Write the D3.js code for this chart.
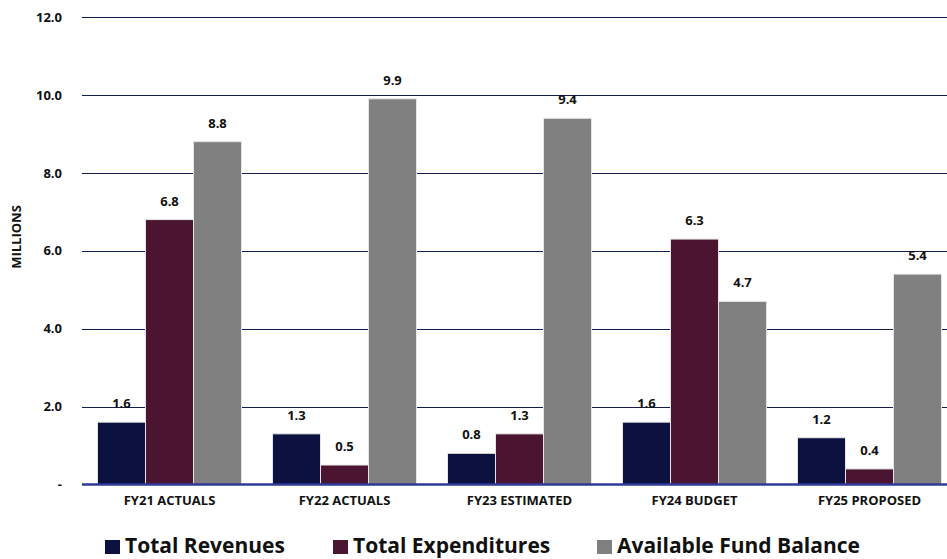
<!DOCTYPE html>
<html>
<head>
<meta charset="utf-8">
<script src="https://cdn.jsdelivr.net/npm/d3@7"></script>
<style>
  html, body { margin: 0; padding: 0; background: #fff; }
  svg { display: block; font-family: "Open Sans", Lato, sans-serif; }
</style>
</head>
<body>
<svg id="chart" width="947" height="559"></svg>
<script>
// Fiscal years shown along the x axis
const categories = ["FY21 ACTUALS", "FY22 ACTUALS", "FY23 ESTIMATED", "FY24 BUDGET", "FY25 PROPOSED"];
// Values in millions
const totalRevenues = [1.6, 1.3, 0.8, 1.6, 1.2];
const totalExpenditures = [6.8, 0.5, 1.3, 6.3, 0.4];
const availableFundBalance = [8.8, 9.9, 9.4, 4.7, 5.4];
const seriesNames = ["Total Revenues", "Total Expenditures", "Available Fund Balance"];
const yTicks = [0, 2, 4, 6, 8, 10, 12];

const seriesValues = [totalRevenues, totalExpenditures, availableFundBalance];
const colors = ["#0d1140", "#4b1531", "#808080"];
const FONT = "'Open Sans', Lato, sans-serif";

const svg = d3.select("#chart");
const margin = { left: 82, top: 17, bottom: 74 };
const plotRight = 957;
const height = 559;

const x0 = d3.scaleBand()
  .domain(categories)
  .range([margin.left, plotRight])
  .paddingInner(0.177)
  .paddingOuter(0.0885);

const x1 = d3.scaleBand()
  .domain(d3.range(seriesNames.length))
  .range([0, x0.bandwidth()]);

const y = d3.scaleLinear()
  .domain([0, 12])
  .range([height - margin.bottom - 0.5, margin.top]);

// Horizontal gridlines
svg.append("g")
  .selectAll("line")
  .data(yTicks.filter(d => d > 0))
  .join("line")
  .attr("x1", margin.left)
  .attr("x2", plotRight)
  .attr("y1", d => Math.round(y(d)) + 0.5)
  .attr("y2", d => Math.round(y(d)) + 0.5)
  .attr("stroke", "#161b52")
  .attr("stroke-width", 1.2);

// Y axis tick labels
const yAxis = d3.axisLeft(y)
  .tickValues(yTicks)
  .tickSize(0)
  .tickPadding(0)
  .tickFormat(d => d === 0 ? "-" : d3.format(".1f")(d));

svg.append("g")
  .attr("transform", `translate(62,0)`)
  .call(yAxis)
  .call(g => g.select(".domain").remove())
  .selectAll("text")
  .attr("font-family", FONT)
  .attr("font-size", 13)
  .attr("font-weight", "bold")
  .attr("fill", "#111");

// Axis title
svg.append("text")
  .attr("transform", `translate(16,237) rotate(-90)`)
  .attr("text-anchor", "middle")
  .attr("dy", "0.35em")
  .attr("font-size", 13)
  .attr("font-weight", "bold")
  .attr("fill", "#111")
  .text("MILLIONS");

// Bars
const groups = svg.append("g")
  .selectAll("g")
  .data(categories)
  .join("g")
  .attr("transform", d => `translate(${x0(d)},0)`);

const cells = groups.selectAll("g")
  .data((d, i) => seriesValues.map((s, k) => ({ k, v: s[i] })))
  .join("g");

cells.append("rect")
  .attr("x", d => x1(d.k))
  .attr("y", d => y(d.v))
  .attr("width", x1.bandwidth())
  .attr("height", d => y(0) - y(d.v))
  .attr("fill", d => colors[d.k])
  .attr("stroke", "#e6e6e6")
  .attr("stroke-width", 1);

cells.append("text")
  .attr("x", d => x1(d.k) + x1.bandwidth() / 2)
  .attr("y", d => y(d.v) - 14)
  .attr("text-anchor", "middle")
  .attr("font-size", 13)
  .attr("font-weight", "bold")
  .attr("fill", "#111")
  .text(d => d3.format(".1f")(d.v));

// Baseline
svg.append("line")
  .attr("x1", margin.left)
  .attr("x2", plotRight)
  .attr("y1", y(0))
  .attr("y2", y(0))
  .attr("stroke", "#2e3a9a")
  .attr("stroke-width", 2.5);

// X axis labels
const xAxis = d3.axisBottom(x0).tickSize(0).tickPadding(0);
svg.append("g")
  .attr("transform", `translate(0,${y(0) + 11})`)
  .call(xAxis)
  .call(g => g.select(".domain").remove())
  .selectAll("text")
  .attr("font-family", FONT)
  .attr("font-size", 13)
  .attr("font-weight", "bold")
  .attr("fill", "#111");

// Legend
const legendX = [105, 333, 597];
const legend = svg.append("g")
  .selectAll("g")
  .data(seriesNames)
  .join("g")
  .attr("transform", (d, i) => `translate(${legendX[i]},546)`);

legend.append("rect")
  .attr("x", 0)
  .attr("y", -6)
  .attr("width", 15)
  .attr("height", 14)
  .attr("fill", (d, i) => colors[i]);

legend.append("text")
  .attr("x", 20)
  .attr("y", 0)
  .attr("dy", "0.35em")
  .attr("font-size", 21)
  .attr("font-weight", "bold")
  .attr("fill", "#111")
  .text(d => d);
</script>
</body>
</html>
